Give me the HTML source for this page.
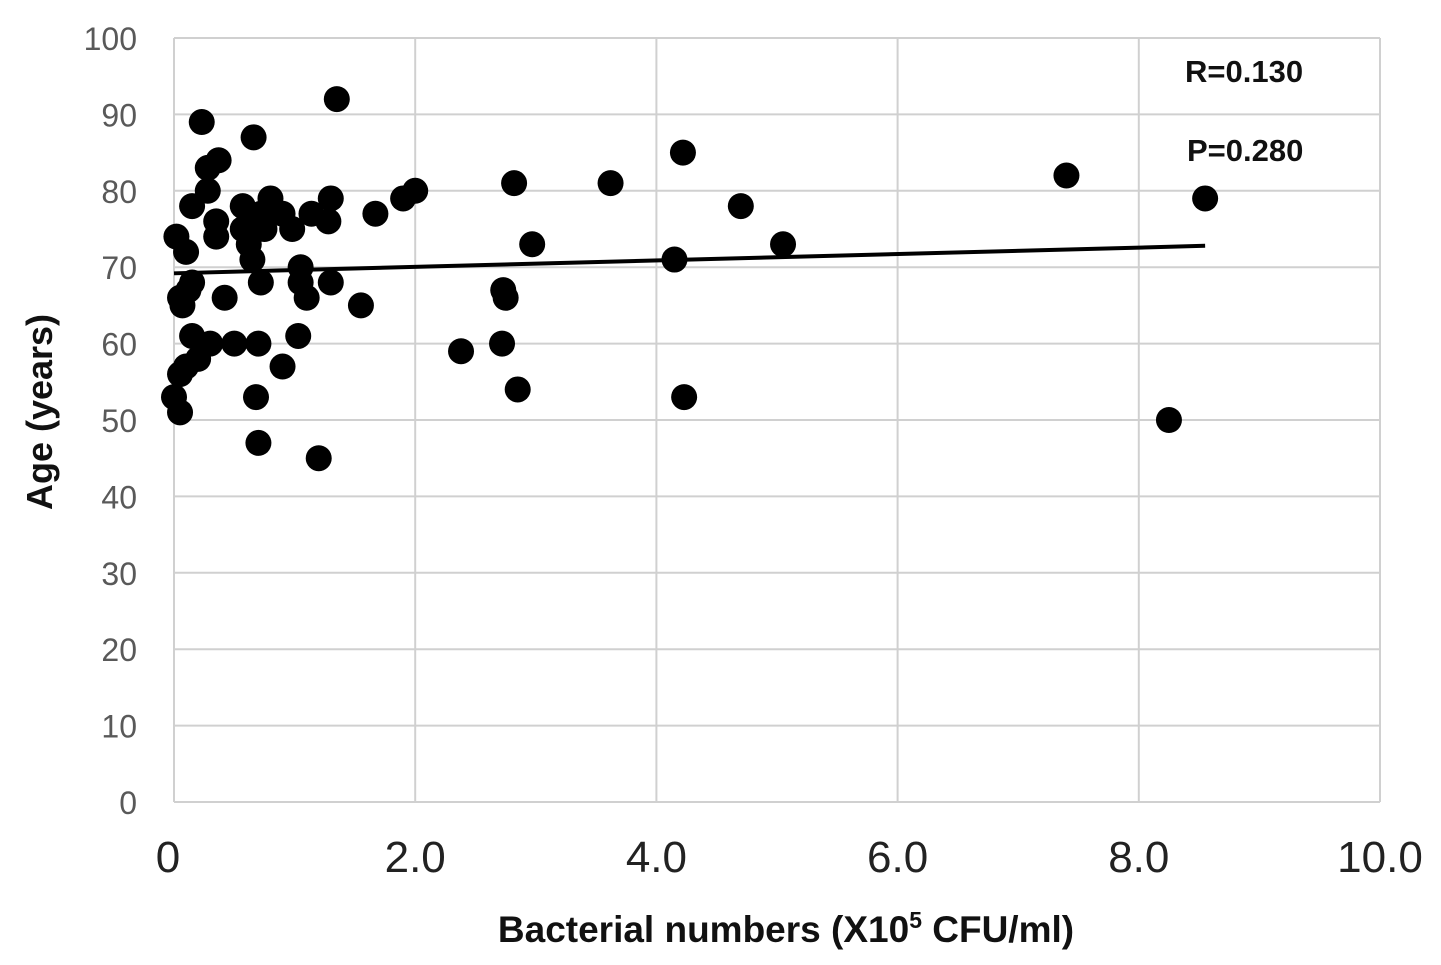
<!DOCTYPE html>
<html><head><meta charset="utf-8"><style>
html,body{margin:0;padding:0;background:#fff}
svg{display:block}
</style></head><body>
<svg id="chart" width="1441" height="965" xmlns="http://www.w3.org/2000/svg">
<g id="grid"></g>
<g id="yticks"></g>
<g id="xticks"></g>
<g id="trend"></g>
<g id="points"></g>
<text x="1185" y="82" font-family="Liberation Sans, sans-serif" font-size="31" font-weight="bold" fill="#111">R=0.130</text>
<text x="1187" y="161" font-family="Liberation Sans, sans-serif" font-size="31" font-weight="bold" fill="#111">P=0.280</text>
<text x="786" y="942" text-anchor="middle" font-family="Liberation Sans, sans-serif" font-size="37" font-weight="bold" fill="#111">Bacterial numbers (X10<tspan dy="-14" font-size="23">5</tspan><tspan dy="14"> CFU/ml)</tspan></text>
<text transform="translate(52,412) rotate(-90)" text-anchor="middle" font-family="Liberation Sans, sans-serif" font-size="36" font-weight="bold" fill="#111">Age (years)</text>
</svg>
<script>
const xTicks=[0,2,4,6,8,10];
const xTickLabels=["0","2.0","4.0","6.0","8.0","10.0"];
const yTicks=[0,10,20,30,40,50,60,70,80,90,100];
const xVals=[0.02,0.1,0.15,0.28,0.28,0.37,0.23,0.66,1.35,0.35,0.35,0.57,0.57,0.62,0.65,0.72,0.75,0.8,0.9,0.98,1.14,1.3,1.28,1.05,1.05,1.1,1.3,0.72,0.12,0.15,0.05,0.07,0.42,0.15,0.2,0.3,0.5,0.7,1.03,0.9,0.05,0.1,0.0,0.05,0.68,0.7,1.2,1.55,1.67,1.9,2.0,2.38,2.73,2.75,2.72,2.82,2.85,2.97,3.62,4.15,4.22,4.23,4.7,5.05,7.4,8.25,8.55];
const yVals=[74,72,78,80,83,84,89,87,92,76,74,78,75,73,71,77,75,79,77,75,77,79,76,70,68,66,68,68,67,68,66,65,66,61,58,60,60,60,61,57,56,57,53,51,53,47,45,65,77,79,80,59,67,66,60,81,54,73,81,71,85,53,78,73,82,50,79];
const trendX=[0,8.55];
const trendY=[69.2,72.8];
const NS="http://www.w3.org/2000/svg";
const X0=174,X1=1380,Y0=802,Y1=38;
function sx(v){return X0+(v-0)/(10-0)*(X1-X0);}
function sy(v){return Y0-(v-0)/(100-0)*(Y0-Y1);}
function mk(tag,attrs,parent){const e=document.createElementNS(NS,tag);for(const k in attrs)e.setAttribute(k,attrs[k]);parent.appendChild(e);return e;}
const grid=document.getElementById('grid');
yTicks.forEach(t=>{
  const l=mk('line',{x1:X0,x2:X1,y1:sy(t),y2:sy(t),stroke:'#d0d0d0','stroke-width':2},grid);
  
  
  const tx=mk('text',{x:137,y:sy(t)+12,'text-anchor':'end','font-family':'Liberation Sans, sans-serif','font-size':32,fill:'#595959'},document.getElementById('yticks'));
  tx.textContent=t;
  
  
});
xTicks.forEach((t,i)=>{
  const l=mk('line',{x1:sx(t),x2:sx(t),y1:Y1,y2:Y0,stroke:'#d0d0d0','stroke-width':2},grid);
  
  
  const tx=mk('text',{x:sx(t)-(i==0?6:0),y:872,'text-anchor':'middle','font-family':'Liberation Sans, sans-serif','font-size':44,fill:'#222'},document.getElementById('xticks'));
  tx.textContent=xTickLabels[i];
  
  
});
const tl=mk('line',{x1:sx(trendX[0]),y1:sy(trendY[0]),x2:sx(trendX[1]),y2:sy(trendY[1]),stroke:'#000','stroke-width':4},document.getElementById('trend'));


const pg=document.getElementById('points');
xVals.forEach((x,i)=>{
  const c=mk('circle',{cx:sx(x),cy:sy(yVals[i]),r:13,fill:'#000'},pg);
  
  
});
</script>
</body></html>
